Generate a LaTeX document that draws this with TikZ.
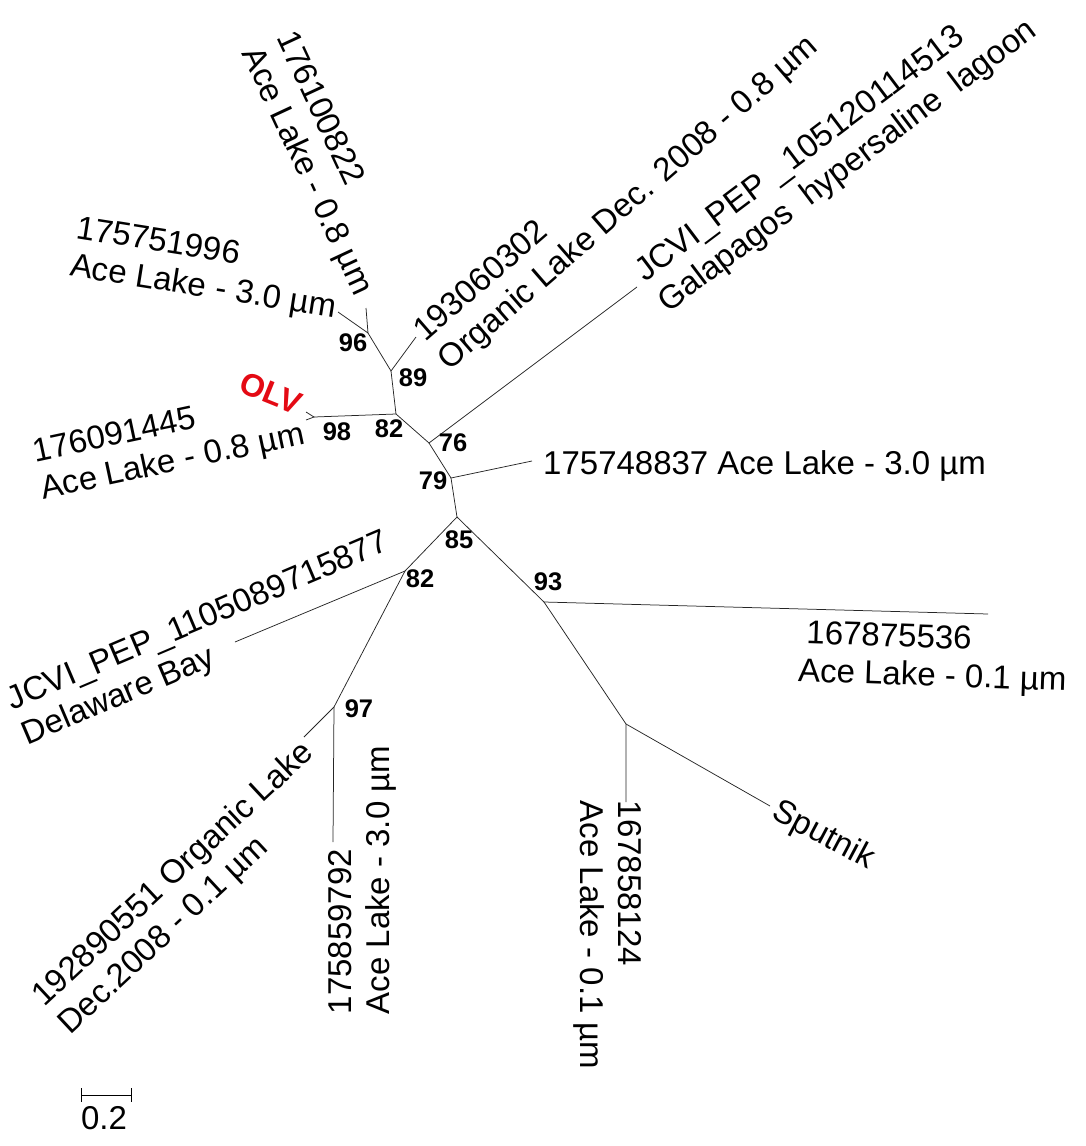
\documentclass[tikz,border=0pt]{standalone}
\usepackage{fontspec}
\setmainfont{Liberation Sans}
\definecolor{olvred}{RGB}{228,10,20}

\begin{document}
\begin{tikzpicture}[x=1pt, y=-1pt,
    branch/.style={line width=0.75pt, black!85},
    taxon/.style={font=\fontsize{33}{38}\selectfont, inner sep=0pt, align=left},
    bootval/.style={font=\fontsize{25.5}{28}\selectfont\bfseries, inner sep=0pt}]
  \useasboundingbox (0,0) rectangle (1086,1146);

  % internal nodes
  \coordinate (n96) at (368,333);
  \coordinate (n89) at (391,371);
  \coordinate (n82a) at (396,414);
  \coordinate (n98) at (314,417);
  \coordinate (n76) at (429,443);
  \coordinate (n79) at (451,478);
  \coordinate (n85) at (457,517);
  \coordinate (n82b) at (405,571);
  \coordinate (n97) at (334,707);
  \coordinate (n93) at (544,602);
  \coordinate (nsp) at (626,724);

  % tips
  \coordinate (e176100822) at (366,308);
  \coordinate (e175751996) at (338,312);
  \coordinate (e193060302) at (416,337);
  \coordinate (eolv) at (306,412);
  \coordinate (e176091445) at (306,420);
  \coordinate (ejcvia) at (637,287);
  \coordinate (e175748837) at (532,461);
  \coordinate (ejcvib) at (235,642);
  \coordinate (e192890551) at (304,737);
  \coordinate (e175859792) at (333,842);
  \coordinate (e167875536) at (988,614);
  \coordinate (e167858124) at (626,802);
  \coordinate (esputnik) at (770,806);

  % branches
  \draw[branch] (e176100822) -- (n96) -- (e175751996);
  \draw[branch] (n96) -- (n89) -- (e193060302);
  \draw[branch] (n89) -- (n82a) -- (n98);
  \draw[branch] (eolv) -- (n98) -- (e176091445);
  \draw[branch] (n82a) -- (n76) -- (ejcvia);
  \draw[branch] (n76) -- (n79) -- (e175748837);
  \draw[branch] (n79) -- (n85) -- (n82b) -- (ejcvib);
  \draw[branch] (n82b) -- (n97) -- (e192890551);
  \draw[branch] (n97) -- (e175859792);
  \draw[branch] (n85) -- (n93) -- (e167875536);
  \draw[branch] (n93) -- (nsp) -- (e167858124);
  \draw[branch] (nsp) -- (esputnik);

  % taxa
  \node[taxon, rotate=-65] (t176100822) at (323,164) {176100822\\Ace Lake - 0.8 µm};
  \node[taxon, rotate=-9] (t175751996) at (206,270) {175751996\\Ace Lake - 3.0 µm};
  \node[inner sep=0pt, rotate=-22, text=olvred, font=\fontsize{32}{36}\selectfont\bfseries] (tolv) at (271,393) {OLV};
  \node[taxon, rotate=12] (t176091445) at (169,445) {176091445\\Ace Lake - 0.8 µm};
  \node[taxon, rotate=41] (t193060302) at (617,190) {193060302\\Organic Lake Dec. 2008 - 0.8 µm};
  \node[taxon, rotate=37] (tjcvia) at (837,152) {JCVI\_PEP\hspace{10pt}\_105120114513\\Galapagos\hspace{9pt} hypersaline\hspace{9pt} lagoon};
  \node[taxon, anchor=base west] (t175748837) at (543,474) {175748837 Ace Lake - 3.0 µm};
  \node[taxon, rotate=23] (tjcvib) at (206,640) {JCVI\_PEP\_1105089715877\\Delaware Bay};
  \node[taxon, rotate=43] (t192890551) at (187,889) {192890551 Organic Lake\\Dec.2008 - 0.1 µm};
  \node[taxon, rotate=90] (t175859792) at (362,880) {175859792\\Ace Lake - 3.0 µm};
  \node[taxon, rotate=-90] (t167858124) at (608,935) {167858124\\Ace Lake - 0.1 µm};
  \node[taxon, rotate=-28] (tsputnik) at (823,836) {Sputnik};
  \node[taxon, rotate=-2] (t167875536) at (933,659) {\hspace*{7pt}167875536\\Ace Lake - 0.1 µm};

  % bootstrap values
  \node[bootval] (b96) at (353,343) {96};
  \node[bootval] (b89) at (413,378) {89};
  \node[bootval] (b98) at (337,432) {98};
  \node[bootval] (b82a) at (389,429) {82};
  \node[bootval] (b76) at (453,443) {76};
  \node[bootval] (b79) at (433,481) {79};
  \node[bootval] (b85) at (459,540) {85};
  \node[bootval] (b82b) at (420,579) {82};
  \node[bootval] (b93) at (548,582) {93};
  \node[bootval] (b97) at (359,709) {97};

  % scale bar
  \coordinate (sb0) at (81,1095);
  \coordinate (sb1) at (131,1095);
  \draw[line width=0.9pt] (sb0) -- (sb1);
  \draw[line width=0.9pt] (sb0) ++(0,-7) -- ++(0,14);
  \draw[line width=0.9pt] (sb1) ++(0,-7) -- ++(0,14);
  \node[taxon] (sbtext) at (104,1118) {0.2};
\end{tikzpicture}
\end{document}
